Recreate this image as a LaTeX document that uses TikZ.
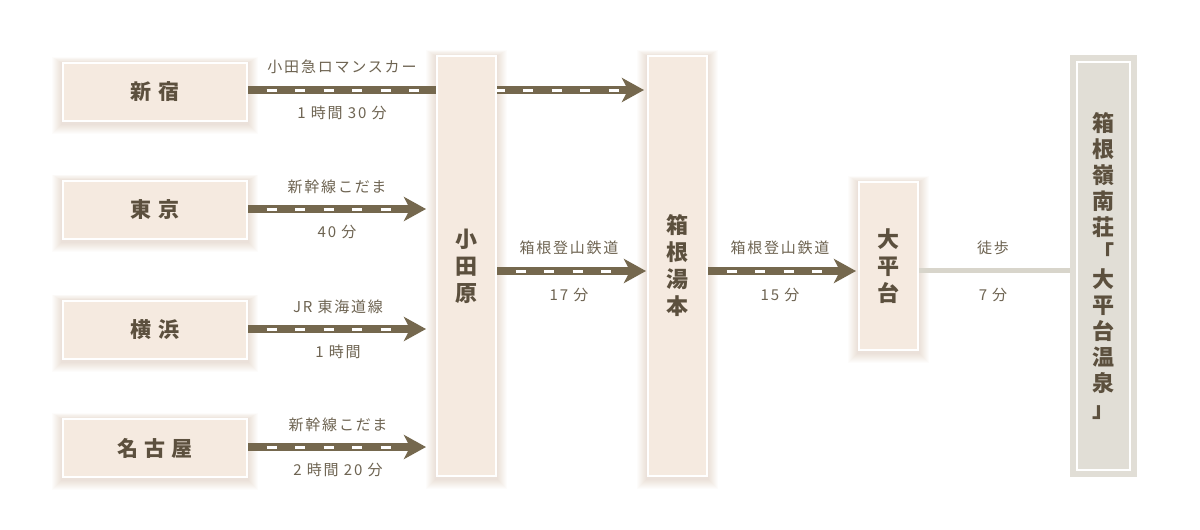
\documentclass[tikz,border=0pt]{standalone}
\usepackage{fontspec}
\setmainfont{Noto Sans CJK JP}
\usetikzlibrary{arrows.meta,backgrounds}
\definecolor{beige}{HTML}{F5EAE0}
\definecolor{glowc}{HTML}{B89478}
\definecolor{stxt}{HTML}{5C503E}
\definecolor{ltxt}{HTML}{6E6452}
\definecolor{railc}{HTML}{75684E}
\definecolor{hotelc}{HTML}{E1DED6}
\definecolor{walkc}{HTML}{D8D5CB}
\newcommand\railto[2]{\draw[railbar] #1 -- #2; \draw[raildash] #1 -- #2;}
\begin{document}
\begin{tikzpicture}[x=1pt,y=-1pt,
  station/.style={fill=beige, draw=white, line width=2pt, inner sep=0pt, text=stxt, align=center},
  hbox/.style={station, minimum width=184pt, minimum height=58pt,
    font=\fontsize{21}{27}\selectfont\bfseries\addfontfeature{LetterSpace=30}},
  vbox/.style={station, minimum width=59pt,
    font=\fontsize{22}{27}\selectfont\bfseries},
  hotelbox/.style={fill=hotelc, draw=none, inner sep=0pt, minimum width=67pt, minimum height=422pt,
    text=stxt, align=center, font=\fontsize{22}{26}\selectfont\bfseries},
  lbl/.style={text=ltxt, inner sep=0pt, font=\fontsize{15}{18}\selectfont\addfontfeature{LetterSpace=12}},
  railbar/.style={draw=railc, line width=8pt, -{Stealth[length=22pt,width=24pt,inset=6pt]}},
  raildash/.style={draw=white, line width=3pt, dash pattern=on 10pt off 18.5pt, dash phase=10pt, shorten >=24pt},
  walk/.style={draw=walkc, line width=5pt}
]
\useasboundingbox (0,0) rectangle (1200,530);

% stations
\node[hbox] (shinjuku) at (155,92) {新宿};
\node[hbox] (tokyo) at (155,209.5) {東京};
\node[hbox] (yokohama) at (155,329.5) {横浜};
\node[hbox] (nagoya) at (155,448) {名古屋};
\node[vbox, minimum height=420pt] (odawara) at (466.5,266) {小\\田\\原};
\node[vbox, minimum height=420pt] (yumoto) at (677.5,266) {箱\\根\\湯\\本};
\node[vbox, minimum height=168pt] (ohiradai) at (888.5,266) {大\\平\\台};
\node[hotelbox] (hotel) at (1103.5,266) {箱\\根\\嶺\\南\\荘\\「\\大\\平\\台\\温\\泉\\」};
\draw[white, line width=2pt] ([shift={(7,7)}]hotel.north west) rectangle ([shift={(-7,-7)}]hotel.south east);

% rows
\coordinate (y1) at (0,90);
\coordinate (y2) at (0,209);
\coordinate (y3) at (0,329);
\coordinate (y4) at (0,447);
\coordinate (y5) at (0,271);
\coordinate (y6) at (0,270);

\begin{pgfonlayer}{background}
\fill[white] (0,0) rectangle (1200,530);
\foreach \n in {shinjuku,tokyo,yokohama,nagoya,odawara,yumoto,ohiradai}{
  \foreach \d in {10,9,...,1}{
    \fill[glowc, opacity=0.028] ([shift={(-\d,-0.6*\d+1)}]\n.north west) rectangle ([shift={(\d,\d+2)}]\n.south east);
  }
}
\railto{(shinjuku.east |- y1)}{([xshift=-3pt]yumoto.west |- y1)}
\railto{(tokyo.east |- y2)}{([xshift=-10pt]odawara.west |- y2)}
\railto{(yokohama.east |- y3)}{([xshift=-10pt]odawara.west |- y3)}
\railto{(nagoya.east |- y4)}{([xshift=-10pt]odawara.west |- y4)}
\railto{(odawara.east |- y5)}{([xshift=-1pt]yumoto.west |- y5)}
\railto{(yumoto.east |- y5)}{([xshift=-2pt]ohiradai.west |- y5)}
\draw[walk] (ohiradai.east |- y6) -- (hotel.west |- y6);
\end{pgfonlayer}

% labels
\node[lbl] (l1a) at (342,67) {小田急ロマンスカー};
\node[lbl] (l1b) at (342,113) {1 時間 30 分};
\node[lbl] (l2a) at (337,187) {新幹線こだま};
\node[lbl] (l2b) at (337,232) {40 分};
\node[lbl] (l3a) at (338,307) {JR 東海道線};
\node[lbl] (l3b) at (338,352) {1 時間};
\node[lbl] (l4a) at (338,425) {新幹線こだま};
\node[lbl] (l4b) at (338,470) {2 時間 20 分};
\node[lbl] (l5a) at (569,248) {箱根登山鉄道};
\node[lbl] (l5b) at (569,295) {17 分};
\node[lbl] (l6a) at (780,248) {箱根登山鉄道};
\node[lbl] (l6b) at (780,295) {15 分};
\node[lbl] (l7a) at (993,248) {徒歩};
\node[lbl] (l7b) at (993,295) {7 分};
\end{tikzpicture}
\end{document}
